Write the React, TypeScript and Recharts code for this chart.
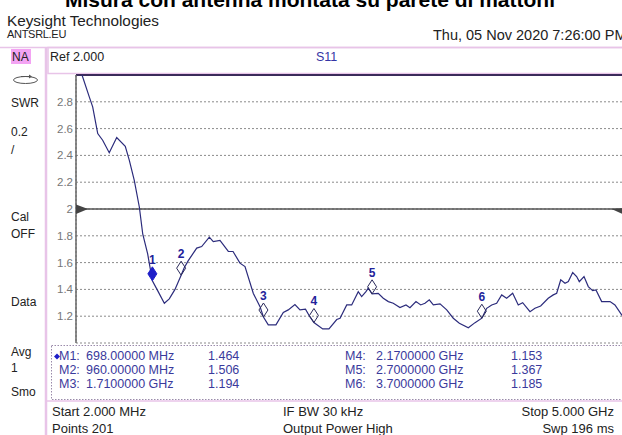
import React from 'react';
import { ComposedChart, Line, XAxis, YAxis, CartesianGrid, ReferenceLine, ReferenceDot } from 'recharts';

const freqMHz = [2, 57, 123, 154, 200, 245, 305, 373, 451, 488, 533, 579, 610, 655, 698, 746, 807, 852, 904, 960, 987, 1025, 1102, 1147, 1217, 1253, 1314, 1390, 1433, 1496, 1542, 1618, 1679, 1710, 1754, 1824, 1891, 1936, 1997, 2043, 2093, 2134, 2170, 2250, 2307, 2378, 2408, 2469, 2514, 2574, 2605, 2644, 2665, 2700, 2756, 2802, 2848, 2893, 2954, 3009, 3045, 3100, 3143, 3182, 3221, 3258, 3319, 3380, 3440, 3495, 3577, 3638, 3700, 3744, 3790, 3835, 3881, 3926, 3981, 4032, 4072, 4139, 4184, 4236, 4305, 4351, 4382, 4419, 4458, 4488, 4528, 4564, 4588, 4631, 4670, 4710, 4740, 4792, 4868, 4913, 4974, 5000];
const swrValues = [3.25, 3.0, 2.837, 2.762, 2.563, 2.513, 2.42, 2.533, 2.468, 2.363, 2.213, 2.015, 1.815, 1.665, 1.464, 1.391, 1.297, 1.329, 1.4, 1.506, 1.56, 1.615, 1.708, 1.72, 1.79, 1.757, 1.765, 1.683, 1.683, 1.596, 1.57, 1.37, 1.271, 1.194, 1.135, 1.135, 1.228, 1.247, 1.287, 1.247, 1.252, 1.194, 1.153, 1.105, 1.105, 1.175, 1.185, 1.284, 1.284, 1.383, 1.346, 1.383, 1.409, 1.367, 1.371, 1.334, 1.309, 1.297, 1.264, 1.284, 1.264, 1.309, 1.284, 1.297, 1.322, 1.284, 1.292, 1.247, 1.185, 1.147, 1.114, 1.152, 1.185, 1.259, 1.284, 1.297, 1.359, 1.334, 1.371, 1.284, 1.301, 1.234, 1.259, 1.276, 1.334, 1.359, 1.371, 1.471, 1.446, 1.458, 1.526, 1.496, 1.458, 1.496, 1.421, 1.391, 1.396, 1.309, 1.309, 1.284, 1.21, 1.19];

// Markers
const markerIds = ['1', '2', '3', '4', '5', '6'];
const markerFreqMHz = [698, 960, 1710, 2170, 2700, 3700];
const markerSwr = [1.464, 1.506, 1.194, 1.153, 1.367, 1.185];
const markerFreqText = ['698.00000 MHz', '960.00000 MHz', '1.7100000 GHz', '2.1700000 GHz', '2.7000000 GHz', '3.7000000 GHz'];
const markerValueText = ['1.464', '1.506', '1.194', '1.153', '1.367', '1.185'];

// Axes
const startMHz = 2;
const stopMHz = 5000;
const xDivisions = 10;
const yTicks = [1.2, 1.4, 1.6, 1.8, 2, 2.2, 2.4, 2.6, 2.8];
const yMin = 1;
const yMax = 3;
const refValue = 2;

const sideLabels = [
  { t: 'SWR', y: 107 },
  { t: '0.2', y: 136 },
  { t: '/', y: 154 },
  { t: 'Cal', y: 221 },
  { t: 'OFF', y: 238 },
  { t: 'Data', y: 306 },
  { t: 'Avg', y: 356 },
  { t: '1', y: 372 },
  { t: 'Smo', y: 396 },
];

const data = freqMHz.map((f, i) => ({ freq: f, swr: swrValues[i] }));
const xTicks = Array.from({ length: xDivisions + 1 }, (_, i) => startMHz + (i * (stopMHz - startMHz)) / xDivisions);

const FONT = '"Liberation Sans", Arial, sans-serif';
const PINK = '#e8c4e8';
const MK = '#3a3a9c';

const MarkerShape = (id: string, filled: boolean) => (props: any) => {
  const { cx, cy } = props;
  if (cx == null || cy == null) return null;
  const w = 4.5;
  const h = 14;
  const pts = `${cx},${cy} ${cx + w},${cy - h / 2} ${cx},${cy - h} ${cx - w},${cy - h / 2}`;
  return (
    <g>
      <polygon points={pts} fill={filled ? '#1e1ec8' : 'none'} stroke={filled ? '#1e1ec8' : '#2a2a5a'} strokeWidth={1} />
      <text x={cx} y={cy - h - 3} textAnchor="middle" fontFamily={FONT} fontWeight="bold" fontSize={12} fill="#22229a">
        {id}
      </text>
    </g>
  );
};

const ArrowRight = (props: any) => {
  const { cx, cy } = props;
  if (cx == null) return null;
  return <polygon points={`${cx},${cy - 4.5} ${cx + 12},${cy} ${cx},${cy + 5}`} fill="#444" />;
};
const ArrowLeft = (props: any) => {
  const { cx, cy } = props;
  if (cx == null) return null;
  return <polygon points={`${cx - 13},${cy} ${cx},${cy - 1} ${cx},${cy + 6}`} fill="#444" />;
};

export default function App() {
  return (
    <div style={{ position: 'absolute', left: 0, top: 0, width: 622, height: 435, overflow: 'hidden', background: '#fff' }}>
      <svg width={622} height={435} style={{ position: 'absolute', left: 0, top: 0 }} fontFamily={FONT}>
        <text x={310} y={7} textAnchor="middle" fontWeight="bold" fontSize={21} fill="#000">
          Misura con antenna montata su parete di mattoni
        </text>
        <text x={7} y={26} fontSize={15.3} fill="#222">Keysight Technologies</text>
        <text x={7} y={38} fontSize={11} fill="#222" letterSpacing={-0.3}>ANTSRL.EU</text>
        <text x={433} y={40} fontSize={14.5} fill="#222">Thu, 05 Nov 2020 7:26:00 PM</text>

        <line x1={0} y1={47.5} x2={622} y2={47.5} stroke={PINK} strokeWidth={1.5} />
        <rect x={48} y={47.5} width={580} height={26} fill="none" stroke={PINK} strokeWidth={1.5} />
        <line x1={46} y1={47} x2={46} y2={435} stroke={PINK} strokeWidth={2.5} />
        <rect x={11} y={49} width={20} height={15} fill="#f3a3f3" />
        <text x={12} y={61} fontSize={12} fill="#222">NA</text>
        <text x={50} y={61} fontSize={12.5} fill="#222">Ref 2.000</text>
        <text x={316} y={61} fontSize={12.5} fill="#3535a5">S11</text>

        <ellipse cx={25.5} cy={80} rx={12} ry={3.5} fill="none" stroke="#555" strokeWidth={1} />
        <line x1={21} y1={76.5} x2={29} y2={76.5} stroke="#555" strokeWidth={1} />
        <polygon points="29,74.5 32,76.5 29,78.5" fill="#555" />
        {sideLabels.map((s) => (
          <text key={s.t + s.y} x={11} y={s.y} fontSize={12} fill="#222">{s.t}</text>
        ))}

        <rect x={51.5} y={345.5} width={580} height={54} fill="none" stroke="#9a8aaa" strokeWidth={1} strokeDasharray="1.5 1.5" />
        <line x1={46} y1={401} x2={622} y2={401} stroke={PINK} strokeWidth={1.5} />
        <polygon points="54,356.5 57,353.5 60,356.5 57,359.5" fill="#1e1ec8" />
        {markerIds.map((id, i) => {
          const col = i < 3 ? 0 : 1;
          const row = i % 3;
          const y = 360 + row * 14;
          const x0 = col === 0 ? 59 : 345;
          return (
            <g key={id} fontSize={12.5} fill={MK}>
              <text x={x0} y={y}>{`M${id}:`}</text>
              <text x={x0 + (col === 0 ? 27 : 31)} y={y}>{markerFreqText[i]}</text>
              <text x={col === 0 ? 208 : 511} y={y}>{markerValueText[i]}</text>
            </g>
          );
        })}
        <g fontSize={13} fill="#222">
          <text x={52} y={416}>Start 2.000 MHz</text>
          <text x={52} y={432.5}>Points 201</text>
          <text x={283} y={416}>IF BW 30 kHz</text>
          <text x={283} y={432.5}>Output Power High</text>
          <text x={614} y={416} textAnchor="end">Stop 5.000 GHz</text>
          <text x={614} y={432.5} textAnchor="end">Swp 196 ms</text>
        </g>
      </svg>

      <div style={{ position: 'absolute', left: 0, top: 0 }}>
        <ComposedChart width={630} height={435} data={data} margin={{ top: 75, right: 5.5, bottom: 92, left: 0 }}>
          <CartesianGrid stroke="#8a8a8a" strokeDasharray="2 2" strokeWidth={1} />
          <XAxis
            type="number"
            dataKey="freq"
            domain={[startMHz, stopMHz]}
            ticks={xTicks}
            height={0}
            tick={false}
            tickLine={false}
            axisLine={{ stroke: '#555', strokeWidth: 1.5 }}
            allowDataOverflow
          />
          <YAxis
            type="number"
            domain={[yMin, yMax]}
            ticks={yTicks}
            width={76}
            allowDataOverflow
            tickSize={0}
            tickMargin={3}
            tickLine={false}
            axisLine={{ stroke: '#666', strokeWidth: 1.5 }}
            tick={{ fill: '#777', fontSize: 11.5, fontFamily: FONT }}
            tickFormatter={(v: number) => (v === refValue ? '2' : v.toFixed(1))}
            interval={0}
          />
          <ReferenceLine y={yMax} stroke="#3b2b5b" strokeWidth={2} />
          <ReferenceLine y={refValue} stroke="#555" strokeWidth={1.5} />
          <Line type="linear" dataKey="swr" stroke="#2c2c7c" strokeWidth={1.2} dot={false} isAnimationActive={false} />
          {markerIds.map((id, i) => (
            <ReferenceDot
              key={id}
              x={markerFreqMHz[i]}
              y={markerSwr[i]}
              r={4}
              shape={MarkerShape(id, i === 0)}
            />
          ))}
          <ReferenceDot x={startMHz} y={refValue} r={4} shape={ArrowRight} />
          <ReferenceDot x={stopMHz} y={refValue} r={4} shape={ArrowLeft} />
        </ComposedChart>
      </div>
    </div>
  );
}
